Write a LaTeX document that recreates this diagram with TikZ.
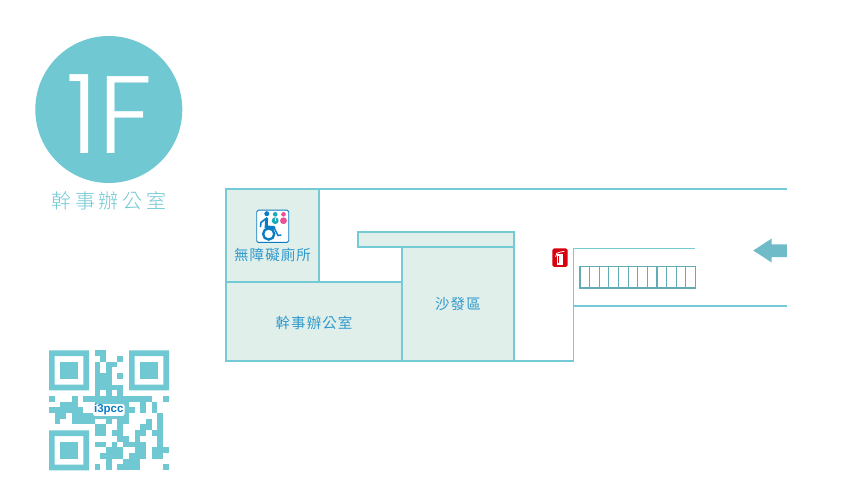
\documentclass[tikz,border=0pt]{standalone}
\usepackage{fontspec}
\newfontfamily\cjktitle[LetterSpace=18]{Noto Sans CJK TC Light}
\newfontfamily\cjklabel[LetterSpace=7]{Noto Sans CJK TC}
\newfontfamily\floorfont{Poppins Light}
\setmainfont{Liberation Sans}
\definecolor{teal1}{HTML}{70C8D3}
\definecolor{wall}{HTML}{74CAD5}
\definecolor{roomfill}{HTML}{E0EFEA}
\definecolor{labelblue}{HTML}{2F99CC}
\definecolor{arrowteal}{HTML}{6FBCC8}
\definecolor{iconblue}{HTML}{0A7CC4}
\definecolor{iconteal}{HTML}{14ACB8}
\definecolor{iconpink}{HTML}{EC4F96}
\definecolor{firered}{HTML}{D8000F}
\tikzset{
 room/.style={draw=wall,fill=roomfill,line width=1.8pt},
 wallline/.style={draw=wall,line width=1.8pt},
 roomlabel/.style={text=labelblue,inner sep=0pt,font=\cjklabel\fontsize{14.5}{15}\selectfont},
 qrm/.style={fill=teal1}
}
\newcommand{\qrfinder}[2]{%
 \fill[qrm,even odd rule] (#1,#2) rectangle ++(40,40) (#1+5.7,#2+5.7) rectangle ++(28.6,28.6);
 \fill[qrm] (#1+11.4,#2+11.4) rectangle ++(17.2,17.2);}
\begin{document}
\begin{tikzpicture}[x=1pt,y=-1pt]
\useasboundingbox (0,0) rectangle (863,500);
\fill[white] (0,0) rectangle (863,500);
% badge
\fill[teal1] (108.8,109.5) circle (73.5);
\node[text=white,inner sep=0pt,anchor=base,font=\floorfont\fontsize{110}{110}\selectfont] (floor) at (110,154) {1F};
\node[text=teal1,inner sep=0pt,font=\cjktitle\fontsize{20}{22}\selectfont] (title) at (109,200.5) {幹事辦公室};
% rooms
\draw[room] (225.7,189.3) rectangle (319.3,282.3);
\draw[room] (225.7,282.3) rectangle (401.7,361);
\draw[room] (401.7,247) rectangle (514,361);
\draw[room] (358.3,232) rectangle (514,247);
\draw[wallline] (319.3,189.3) -- (787,189.3);
\draw[wallline,line join=miter] (514,361) -- (573.5,361) -- (573.5,248.5) -- (695,248.5);
\draw[wallline] (573.5,306) -- (787,306);
% stairs
\draw[draw=wall!85!black,line width=1.3pt] (580,266.7) rectangle (695.5,288);
\foreach \i in {1,...,11} \draw[draw=wall!85!black,line width=1.2pt] (580+9.625*\i,266.7) -- (580+9.625*\i,288);
% arrow
\fill[arrowteal] (753.3,250.5) -- (771.7,238.5) -- (771.7,244.3) -- (786.8,244.3) -- (786.8,257) -- (771.7,257) -- (771.7,262.5) -- cycle;
% extinguisher
\fill[firered,rounded corners=1.5pt] (552.3,248.5) rectangle (567.5,266.8);
\fill[white] (557.2,254) rectangle (563.2,264.6);
\fill[firered] (558.4,255.6) rectangle (559.4,263.4);
\draw[white,line width=0.8pt] (560,252.2) -- (564.5,251.2) (560,252.2) .. controls (557,252) and (555.6,254) .. (555.6,257);
% toilet sign
\draw[draw=iconblue,fill=white,line width=0.9pt,rounded corners=1.5pt] (256.7,210.2) rectangle (288.7,242.4);
\fill[iconblue] (266.8,213.7) circle (2.5);
\draw[iconblue,line width=3pt,line cap=round] (266.6,218.5) -- (266.2,227) -- (274,227.5);
\draw[iconblue,line width=1.6pt,line cap=round,line join=round] (266,218.5) -- (261,222.5) -- (260.5,226.5);
\draw[iconblue,line width=1.4pt,line cap=round] (274,227.5) -- (278,235.5) -- (281,235);
\draw[iconblue,line width=2.3pt] (268.7,234) circle (5.6);
\fill[iconteal] (275.2,214.3) circle (2.3);
\fill[iconteal] (275.2,220.7) circle (3.4);
\fill[white] (274.7,218) rectangle (275.7,221.5);
\fill[iconpink] (283.5,214.3) circle (2.3);
\fill[iconpink] (283.5,220.7) circle (3.4);
% room labels
\node[roomlabel] (wc) at (272.5,255) {無障礙廁所};
\node[roomlabel] (office) at (314,322.7) {幹事辦公室};
\node[roomlabel] (sofa) at (458,303.7) {沙發區};
% QR
\qrfinder{49}{350.3}
\qrfinder{129}{350.3}
\qrfinder{49}{430.3}
\foreach \r/\cs in {
 0/{8,9},
 1/{9,12},
 2/{8,10,11},
 3/{8,10},
 4/{8,9,10,12},
 5/{8,9,10},
 6/{8,9,10,11,12},
 7/{8,10,12},
 8/{0,4,6,7,8,9,10,11,12,13,14,15,16,17,20},
 9/{2,3,4,8,9,10,11,12,13,16,18},
 10/{0,1,2,3,4,5,13,14,16,18},
 11/{1,2,4,5,6,7,8,9,10,11,12,13,19},
 12/{1,4,5,6,7,10,12,13,17,19},
 13/{8,9,12,16,17,19},
 14/{8,9,11,12,15,16,18,19},
 15/{12,13,15,19},
 16/{8,9,11,13,14,15,16,19},
 17/{10,11,12,15,16,18,19,20},
 18/{9,10,11,12,14,15,16,18,19},
 19/{10,13,14,15},
 20/{8,10,12,13,14,15,20}}
 {\foreach \c in \cs \fill[qrm] (49+5.7*\c,350.3+5.7*\r) rectangle ++(5.75,5.75);}
\node[fill=white,rounded corners=2pt,inner xsep=1pt,inner ysep=0.5pt,text=iconblue,font=\bfseries\fontsize{11.5}{12}\selectfont] (logo) at (108.8,410) {i3pcc};
\end{tikzpicture}
\end{document}
